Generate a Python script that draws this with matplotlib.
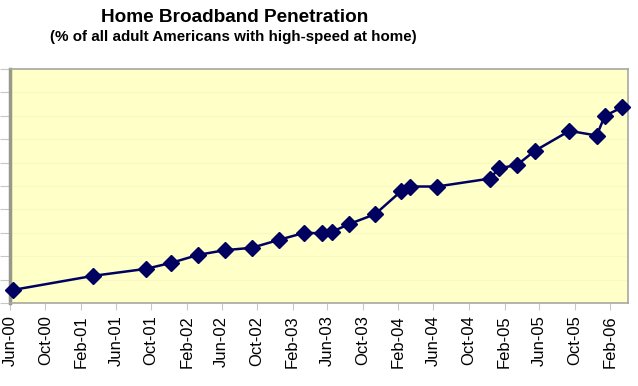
import pandas as pd
import matplotlib.pyplot as plt
import matplotlib.dates as mdates

plt.rcParams['font.family'] = ['Liberation Sans', 'DejaVu Sans']

survey_dates = ['2000-06-12', '2001-03-14', '2001-09-13', '2001-12-10', '2002-03-13',
                '2002-06-13', '2002-09-13', '2002-12-16', '2003-03-13', '2003-05-13',
                '2003-06-16', '2003-08-16', '2003-11-13', '2004-02-10', '2004-03-13',
                '2004-06-13', '2004-12-13', '2005-01-13', '2005-03-16', '2005-05-16',
                '2005-09-13', '2005-12-16', '2006-01-13', '2006-03-13']
pct_broadband = [2.8, 5.8, 7.3, 8.6, 10.3, 11.3, 11.8, 13.5, 15.0, 14.9,
                 15.2, 16.9, 19.0, 23.9, 24.9, 24.9, 26.6, 28.8, 29.5, 32.5,
                 36.8, 35.8, 40.0, 41.8]

x = pd.to_datetime(survey_dates)

fig = plt.figure(figsize=(6.38, 3.86), dpi=100)
ax = fig.add_axes([0.0157, 0.215, 0.9686, 0.606])
ax.set_facecolor('#ffffc8')

ax.plot(x, pct_broadband, color='#000060', linewidth=1.8, marker='D',
        markersize=8, markerfacecolor='#000060', markeredgecolor='#000060',
        zorder=5, clip_on=False)

ax.set_ylim(0, 50)
ax.set_yticks(range(0, 51, 5))
ax.set_yticklabels([])
ax.grid(axis='y', color='#f8f8c4', linewidth=0.8)

ax.set_xlim(pd.Timestamp('2000-06-01'), pd.Timestamp('2006-04-03'))
ax.xaxis.set_major_locator(mdates.MonthLocator(bymonth=[2, 6, 10]))
ax.xaxis.set_major_formatter(mdates.DateFormatter('%b-%y'))
plt.setp(ax.get_xticklabels(), rotation=90, fontsize=12)

ax.tick_params(axis='y', length=7, color='#c8c8c8', direction='out')
ax.tick_params(axis='x', length=5, color='#c8c8c8', direction='out', pad=4)
for side in ['top', 'right', 'bottom']:
    ax.spines[side].set_color('#a8a8a0')
    ax.spines[side].set_linewidth(1.2)
ax.spines['left'].set_color('#98988a')
ax.spines['left'].set_linewidth(2.5)

fig.text(0.367, 0.955, 'Home Broadband Penetration', ha='center', va='center',
         fontsize=13.7, fontweight='bold')
fig.text(0.366, 0.903, '(% of all adult Americans with high-speed at home)',
         ha='center', va='center', fontsize=10.9, fontweight='bold')

fig.savefig('out.png', dpi=100)
